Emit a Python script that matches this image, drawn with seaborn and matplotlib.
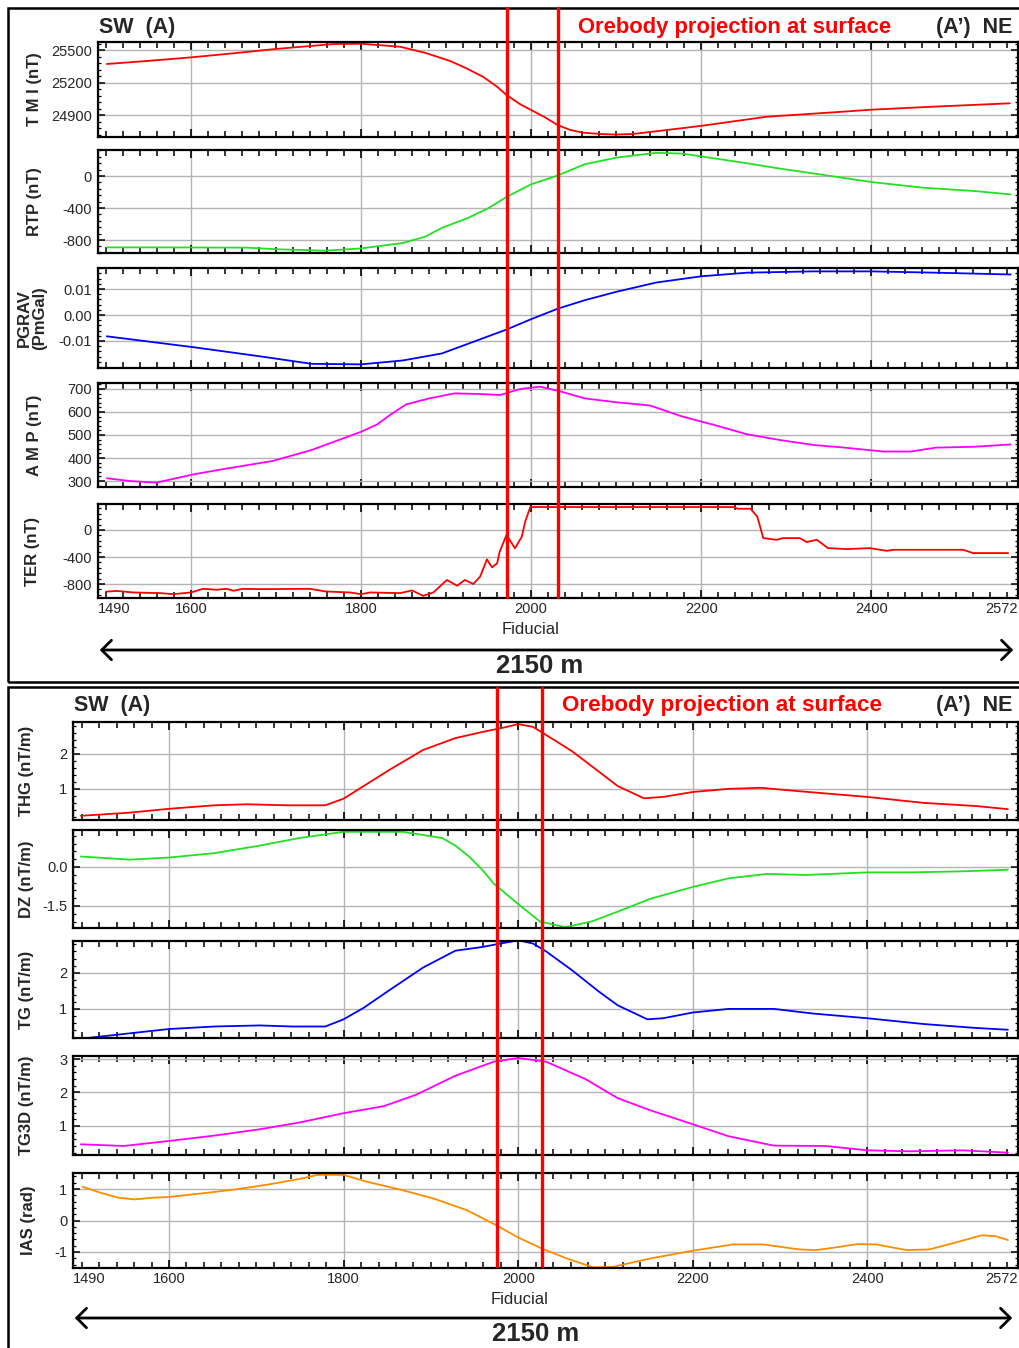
import numpy as np
import pandas as pd
import matplotlib
matplotlib.use("Agg")
import matplotlib.pyplot as plt
import seaborn as sns
from matplotlib.ticker import MultipleLocator, AutoMinorLocator
from matplotlib.lines import Line2D
from matplotlib.patches import Rectangle, FancyArrowPatch
import matplotlib.transforms as mtransforms

# ---------------- data ----------------
x_ticks = [1490, 1600, 1800, 2000, 2200, 2400, 2572]
orebody_top = [1972, 2031]
orebody_bottom = [1976, 2027]

tmi_fid = [1501, 1550, 1600, 1650, 1700, 1767, 1800, 1846, 1875, 1905, 1924, 1944, 1960, 1971, 1987, 2000,
           2016, 2031, 2046, 2061, 2081, 2100, 2120, 2160, 2201, 2277, 2356, 2400, 2473, 2563]
tmi_val = [25371, 25400, 25432, 25470, 25510, 25555, 25558, 25530, 25475, 25398, 25331, 25250, 25161, 25085, 25000, 24946,
           24880, 24808, 24762, 24737, 24725, 24720, 24725, 24762, 24801, 24884, 24925, 24949, 24977, 25008]

rtp_fid = [1501, 1560, 1666, 1700, 1757, 1800, 1849, 1875, 1895, 1926, 1950, 1971, 2000, 2031, 2063, 2101,
           2147, 2178, 2200, 2254, 2293, 2339, 2400, 2461, 2522, 2564]
rtp_val = [-892, -892, -895, -915, -933, -905, -837, -760, -648, -523, -400, -262, -104, 5, 147, 231,
           290, 280, 245, 159, 92, 21, -75, -146, -188, -230]

pgrav_fid = [1501, 1603, 1681, 1742, 1800, 1849, 1895, 1933, 1971, 2000, 2031, 2063, 2101, 2147,
             2200, 2254, 2331, 2400, 2476, 2564]
pgrav_val = [-0.0082, -0.0124, -0.0159, -0.0188, -0.0190, -0.0175, -0.0148, -0.0102, -0.0056, -0.0016,
             0.0024, 0.0057, 0.0090, 0.0125, 0.0149, 0.0163, 0.0168, 0.0168, 0.0163, 0.0156]

amp_fid = [1501, 1528, 1559, 1603, 1643, 1696, 1742, 1800, 1819, 1834, 1853, 1880, 1910, 1941, 1964,
           1987, 2010, 2033, 2063, 2101, 2140, 2178, 2216, 2254, 2293, 2331, 2369, 2415, 2446, 2476,
           2522, 2564]
amp_val = [312, 300, 293, 329, 355, 387, 435, 514, 546, 587, 633, 659, 681, 678, 674,
           700, 710, 691, 659, 642, 628, 580, 543, 503, 478, 457, 445, 428, 428, 445,
           449, 459]

ter_fid = [1500, 1513, 1532, 1564, 1579, 1600, 1614, 1630, 1642, 1650, 1661, 1681, 1740, 1758, 1787,
           1800, 1811, 1846, 1860, 1873, 1885, 1901, 1913, 1922, 1932, 1940, 1948, 1954, 1960, 1963,
           1971, 1981, 1989, 1993, 1999, 2100, 2238, 2243, 2258, 2266, 2273, 2289, 2296, 2316, 2324,
           2336, 2349, 2371, 2398, 2418, 2426, 2508, 2520, 2561]
ter_val = [-913, -902, -925, -935, -950, -925, -871, -885, -871, -900, -871, -876, -871, -910, -925,
           -950, -925, -935, -895, -975, -925, -740, -826, -740, -800, -690, -434, -553, -493, -321,
           -74, -271, -99, 123, 340, 340, 340, 315, 315, 197, -120, -145, -120, -120, -178,
           -145, -268, -283, -268, -308, -293, -293, -342, -342]

thg_fid = [1499, 1555, 1600, 1652, 1689, 1734, 1779, 1800, 1823, 1853, 1891, 1928, 1958, 1987, 2000,
           2017, 2032, 2062, 2092, 2114, 2144, 2166, 2200, 2241, 2278, 2323, 2400, 2464, 2524, 2561]
thg_val = [0.23, 0.32, 0.43, 0.53, 0.56, 0.53, 0.53, 0.72, 1.08, 1.55, 2.11, 2.45, 2.62, 2.77, 2.85,
           2.77, 2.54, 2.07, 1.50, 1.08, 0.73, 0.77, 0.91, 1.00, 1.03, 0.93, 0.77, 0.60, 0.51, 0.42]

dz_fid = [1499, 1555, 1600, 1652, 1704, 1749, 1800, 1868, 1913, 1928, 1943, 1958, 1972, 2000, 2025, 2054, 2084,
          2121, 2151, 2200, 2241, 2285, 2330, 2400, 2449, 2509, 2561]
dz_val = [0.40, 0.28, 0.36, 0.53, 0.82, 1.11, 1.35, 1.35, 1.11, 0.82, 0.42, -0.08, -0.64, -1.43, -2.10, -2.32, -2.10,
          -1.63, -1.23, -0.77, -0.44, -0.27, -0.31, -0.21, -0.21, -0.17, -0.11]

tg_fid = [1499, 1555, 1600, 1652, 1704, 1741, 1779, 1800, 1823, 1853, 1891, 1928, 1958, 1980, 2000,
          2017, 2032, 2062, 2092, 2114, 2148, 2166, 2200, 2241, 2293, 2338, 2400, 2464, 2524, 2561]
tg_val = [0.17, 0.32, 0.44, 0.51, 0.54, 0.51, 0.51, 0.71, 1.03, 1.53, 2.15, 2.62, 2.72, 2.82, 2.91,
          2.82, 2.60, 2.07, 1.49, 1.10, 0.71, 0.74, 0.90, 1.00, 1.00, 0.87, 0.74, 0.58, 0.47, 0.42]

tg3d_fid = [1499, 1548, 1600, 1652, 1704, 1749, 1800, 1846, 1883, 1928, 1972, 2000, 2032, 2077, 2114,
            2151, 2200, 2241, 2293, 2352, 2400, 2449, 2509, 2561]
tg3d_val = [0.45, 0.40, 0.55, 0.71, 0.90, 1.10, 1.38, 1.59, 1.93, 2.50, 2.92, 3.03, 2.92, 2.40, 1.83,
            1.47, 1.05, 0.69, 0.41, 0.40, 0.27, 0.24, 0.27, 0.20]

ias_fid = [1501, 1522, 1541, 1560, 1579, 1601, 1637, 1674, 1713, 1751, 1770, 1800, 1827, 1865, 1903,
           1941, 1977, 2000, 2027, 2056, 2086, 2109, 2151, 2200, 2246, 2280, 2322, 2341, 2360, 2389,
           2410, 2445, 2471, 2497, 2531, 2547, 2561]
ias_val = [1.07, 0.88, 0.73, 0.67, 0.72, 0.75, 0.86, 0.98, 1.14, 1.33, 1.45, 1.45, 1.23, 0.98, 0.70,
           0.33, -0.18, -0.54, -0.89, -1.21, -1.49, -1.47, -1.21, -0.96, -0.76, -0.76, -0.92, -0.94,
           -0.87, -0.75, -0.76, -0.94, -0.92, -0.73, -0.47, -0.50, -0.62]

# ---------------- style ----------------
sns.set_style("white")
plt.rcParams["font.family"] = ["Liberation Sans", "DejaVu Sans"]
plt.rcParams["axes.unicode_minus"] = False

W, H = 1019, 1348
fig = plt.figure(figsize=(W / 100, H / 100), dpi=100)


def rect(l, t, r, b):
    return [l / W, 1 - b / H, (r - l) / W, (b - t) / H]


GRID = "#b4b4b4"


def make_ax(l, t, r, b, fid, val, color, ylim, yticks, yticklabels, label, label_x, bottom=False):
    ax = fig.add_axes(rect(l, t, r, b))
    sns.lineplot(x=fid, y=val, ax=ax, color=color, lw=1.3, sort=False, estimator=None)
    ax.set_xlim(1490, 2572)
    ax.set_ylim(*ylim)
    ax.set_xticks(x_ticks)
    ax.xaxis.set_minor_locator(MultipleLocator(20))
    ax.set_yticks(yticks)
    ax.set_yticklabels(yticklabels)
    ax.yaxis.set_minor_locator(AutoMinorLocator(5))
    ax.grid(True, which="major", color=GRID, lw=1.0)
    ax.set_axisbelow(True)
    for s in ax.spines.values():
        s.set_visible(True)
        s.set_color("black")
        s.set_linewidth(1.6)
    ax.tick_params(axis="both", which="both", direction="in", top=True, right=True,
                   bottom=True, left=True, color="black")
    ax.tick_params(axis="x", which="major", length=6, width=1.2, labelsize=10.5, pad=3)
    ax.tick_params(axis="x", which="minor", length=4, width=1.1)
    ax.tick_params(axis="y", which="major", length=5, width=1.1, labelsize=10.5, pad=4)
    ax.tick_params(axis="y", which="minor", length=2.5, width=0.9)
    ax.set_xlabel("")
    ax.set_ylabel("")
    if bottom:
        ax.set_xticklabels([str(v) for v in x_ticks])
        labs = ax.get_xticklabels()
        labs[0].set_ha("left")
        labs[-1].set_ha("right")
    else:
        ax.set_xticklabels([])
    ax.text((label_x - l) / (r - l), 0.5, label, transform=ax.transAxes, rotation=90,
            ha="center", va="center", fontsize=12, fontweight="bold", linespacing=0.95)
    return ax


# ---- top panel ----
TL, TR = 97.5, 1017.5
make_ax(TL, 42, TR, 137, tmi_fid, tmi_val, "#ff0000", (24697, 25574),
        [24900, 25200, 25500], ["24900", "25200", "25500"], "T M I (nT)", 35)
make_ax(TL, 150, TR, 253, rtp_fid, rtp_val, "#22e022", (-962, 325),
        [-800, -400, 0], ["-800", "-400", "0"], "RTP (nT)", 35)
make_ax(TL, 268, TR, 368, pgrav_fid, pgrav_val, "#0000ff", (-0.0204, 0.0181),
        [-0.01, 0.0, 0.01], ["-0.01", "0.00", "0.01"], "PGRAV\n(PmGal)", 32)
make_ax(TL, 383, TR, 487, amp_fid, amp_val, "#ff00ff", (274, 726),
        [300, 400, 500, 600, 700], ["300", "400", "500", "600", "700"], "A M P (nT)", 35)
ax_ter = make_ax(TL, 504, TR, 598, ter_fid, ter_val, "#ff0000", (-1007, 385),
                 [-800, -400, 0], ["-800", "-400", "0"], "TER (nT)", 33, bottom=True)

# ---- bottom panel ----
BL, BR = 73, 1017.5
make_ax(BL, 722, BR, 820, thg_fid, thg_val, "#ff0000", (0.11, 2.91),
        [1, 2], ["1", "2"], "THG (nT/m)", 27)
make_ax(BL, 830, BR, 928, dz_fid, dz_val, "#22e022", (-2.35, 1.42),
        [-1.5, 0.0], ["-1.5", "0.0"], "DZ (nT/m)", 27)
make_ax(BL, 941, BR, 1038, tg_fid, tg_val, "#0000ff", (0.19, 2.89),
        [1, 2], ["1", "2"], "TG (nT/m)", 27)
make_ax(BL, 1056, BR, 1155, tg3d_fid, tg3d_val, "#ff00ff", (0.13, 3.09),
        [1, 2, 3], ["1", "2", "3"], "TG3D (nT/m)", 27)
ax_ias = make_ax(BL, 1173, BR, 1268, ias_fid, ias_val, "#ff8c00", (-1.51, 1.51),
                 [-1, 0, 1], ["-1", "0", "1"], "IAS (rad)", 28, bottom=True)


def fy(p):
    return 1 - p / H


def fx(p):
    return p / W


# orebody lines
tr_top = mtransforms.blended_transform_factory(ax_ter.transData, fig.transFigure)
for xv in orebody_top:
    fig.add_artist(Line2D([xv, xv], [fy(8), fy(597)], transform=tr_top, color="#ff0000", lw=2.4))
tr_bot = mtransforms.blended_transform_factory(ax_ias.transData, fig.transFigure)
for xv in orebody_bottom:
    fig.add_artist(Line2D([xv, xv], [fy(688), fy(1266)], transform=tr_bot, color="#ff0000", lw=2.4))

# frames
fig.add_artist(Rectangle((fx(8), fy(682)), fx(1030 - 8), (682 - 8) / H, transform=fig.transFigure,
                         fill=False, ec="black", lw=1.8))
fig.add_artist(Rectangle((fx(8), fy(1360)), fx(1030 - 8), (1360 - 687) / H, transform=fig.transFigure,
                         fill=False, ec="black", lw=1.8))


# header texts
def header(y, xl, xo, xr, so):
    fig.text(fx(xl), fy(y), "SW  (A)", fontsize=15.5, fontweight="bold", ha="left", va="center")
    fig.text(fx(xo), fy(y), "Orebody projection at surface", fontsize=so, fontweight="bold",
             color="#ff0000", ha="left", va="center")
    fig.text(fx(xr), fy(y), "(A\u2019)  NE", fontsize=15.5, fontweight="bold", ha="right", va="center")


header(27, 99, 578, 1012, 15.8)
header(705, 74, 562, 1012, 16.2)

# fiducial labels, arrows, distance
for xc, yl, xa0, xa1, ya, yd, xd in [(531, 629, 97, 1016, 650, 666, 540),
                                      (520, 1300, 72, 1015, 1318, 1334, 536)]:
    fig.text(fx(xc), fy(yl), "Fiducial", fontsize=12, ha="center", va="center")
    arr = FancyArrowPatch((fx(xa0), fy(ya)), (fx(xa1), fy(ya)), transform=fig.transFigure,
                          arrowstyle="<->,head_length=7,head_width=7", mutation_scale=1,
                          lw=2.0, color="black")
    fig.add_artist(arr)
    fig.text(fx(xd), fy(yd), "2150 m", fontsize=18.5, fontweight="bold", ha="center", va="center")

fig.savefig("out.png", dpi=100)
